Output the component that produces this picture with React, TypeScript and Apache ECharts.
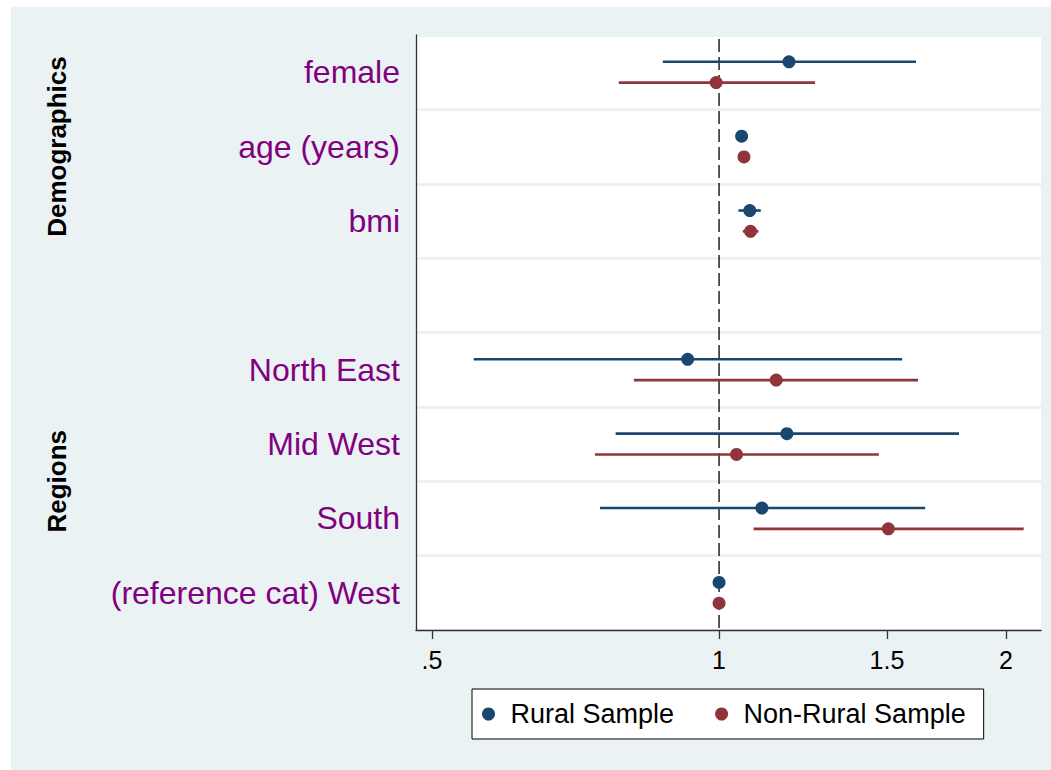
import { useEffect, useRef } from 'react';
import * as echarts from 'echarts';

// rows, top to bottom (blank row separates the two groups)
const categories = ['female', 'age (years)', 'bmi', '', 'North East', 'Mid West', 'South', '(reference cat) West'];

// odds ratios and 95% CI
const ruralEst = [1.184, 1.056, 1.077, null, 0.927, 1.178, 1.109, 1];
const ruralLo = [0.873, 1.049, 1.048, null, 0.553, 0.779, 0.750, 1];
const ruralHi = [1.609, 1.063, 1.106, null, 1.556, 1.785, 1.645, 1];

const nonRuralEst = [0.993, 1.062, 1.079, null, 1.148, 1.043, 1.505, 1];
const nonRuralLo = [0.785, 1.055, 1.059, null, 0.814, 0.741, 1.087, 1];
const nonRuralHi = [1.261, 1.069, 1.100, null, 1.617, 1.471, 2.087, 1];

const xTicks = [0.5, 1, 1.5, 2];
const xMin = 0.481;
const xMax = 2.176;
const refValue = 1;

const groups = [
    { label: 'Demographics', from: 0, to: 2 },
    { label: 'Regions', from: 4, to: 7 }
];

const FONT = '"Liberation Sans", Arial, sans-serif';
const NAVY = '#1a476f';
const MAROON = '#90353b';

const ciData = (lo: (number | null)[], hi: (number | null)[], off: number) =>
    lo.map((l, i) => (l == null || hi[i] == null ? null : [Math.log(l), Math.log(hi[i] as number), i + off]))
        .filter(Boolean);

const pointData = (est: (number | null)[], off: number) =>
    est.map((v, i) => (v == null ? null : [Math.log(v), i + off])).filter(Boolean);

const ciSeries = (name: string, lo: (number | null)[], hi: (number | null)[], off: number, color: string) => ({
    name,
    type: 'custom',
    xAxisIndex: 0,
    yAxisIndex: 1,
    z: 2,
    encode: { x: [0, 1], y: 2 },
    data: ciData(lo, hi, off),
    renderItem: (_params: any, api: any) => {
        const p1 = api.coord([api.value(0), api.value(2)]);
        const p2 = api.coord([api.value(1), api.value(2)]);
        return {
            type: 'line',
            shape: { x1: p1[0], y1: p1[1], x2: p2[0], y2: p2[1] },
            style: { stroke: color, lineWidth: 2.6 }
        };
    }
});

export default function App() {
    const chartRef = useRef<HTMLDivElement>(null);

    useEffect(() => {
        if (!chartRef.current) return;
        const chart = echarts.init(chartRef.current, null, { renderer: 'svg' });

        const off = 0.14;
        const fmt = (v: number) => String(Math.round(Math.exp(v) * 100) / 100).replace(/^0\./, '.');
        const tickVals = xTicks.map(t => Math.log(t));
        const yMin = -0.5;
        const yMax = categories.length - 0.5;

        chart.setOption({
            animation: false,
            backgroundColor: '#eaf2f3',
            textStyle: { fontFamily: FONT },
            grid: {
                left: 405,
                right: 10,
                top: 28,
                bottom: 140,
                show: true,
                backgroundColor: '#ffffff',
                borderWidth: 0
            },
            legend: {
                data: ['Rural Sample', 'Non-Rural Sample'],
                left: 461,
                top: 682,
                padding: [10, 18, 10, 10],
                itemWidth: 34,
                itemHeight: 13,
                itemGap: 41,
                icon: 'circle',
                backgroundColor: '#ffffff',
                borderColor: '#000000',
                borderWidth: 1,
                borderRadius: 0,
                textStyle: { fontSize: 27, color: '#000', fontFamily: FONT, lineHeight: 30 }
            },
            xAxis: {
                type: 'value',
                min: Math.log(xMin),
                max: Math.log(xMax),
                axisLine: { show: true, onZero: false, lineStyle: { color: '#333', width: 1.3 } },
                axisTick: { show: true, customValues: tickVals, length: 9, lineStyle: { color: '#333', width: 1.3 } },
                axisLabel: {
                    customValues: tickVals,
                    formatter: fmt,
                    fontSize: 25,
                    color: '#000',
                    margin: 17,
                    fontFamily: FONT
                },
                splitLine: { show: false }
            },
            yAxis: [
                {
                    type: 'category',
                    data: categories,
                    inverse: true,
                    boundaryGap: true,
                    axisLine: { show: true, onZero: false, lineStyle: { color: '#333', width: 1.3 } },
                    axisTick: { show: false, interval: 0 },
                    axisLabel: { interval: 0, fontSize: 32, color: '#800080', margin: 16, fontFamily: FONT },
                    splitLine: { show: true, interval: 0, lineStyle: { color: '#eaf2f3', width: 3 } }
                },
                {
                    type: 'value',
                    min: yMin,
                    max: yMax,
                    inverse: true,
                    show: false
                }
            ],
            series: [
                {
                    // dashed reference line at OR = 1
                    name: 'ref',
                    type: 'custom',
                    xAxisIndex: 0,
                    yAxisIndex: 1,
                    z: 1,
                    silent: true,
                    data: [[Math.log(refValue)]],
                    encode: { x: 0 },
                    renderItem: (_params: any, api: any) => {
                        const p1 = api.coord([api.value(0), yMin]);
                        const p2 = api.coord([api.value(0), yMax]);
                        return {
                            type: 'line',
                            shape: { x1: p1[0], y1: p1[1] + 4, x2: p2[0], y2: p2[1] },
                            style: { stroke: '#000', lineWidth: 1.3, lineDash: [13, 5] }
                        };
                    }
                },
                ciSeries('Rural CI', ruralLo, ruralHi, -off, NAVY),
                ciSeries('Non-Rural CI', nonRuralLo, nonRuralHi, off, MAROON),
                {
                    name: 'Rural Sample',
                    type: 'scatter',
                    xAxisIndex: 0,
                    yAxisIndex: 1,
                    z: 3,
                    symbol: 'circle',
                    symbolSize: 13,
                    itemStyle: { color: NAVY, opacity: 1 },
                    data: pointData(ruralEst, -off)
                },
                {
                    name: 'Non-Rural Sample',
                    type: 'scatter',
                    xAxisIndex: 0,
                    yAxisIndex: 1,
                    z: 3,
                    symbol: 'circle',
                    symbolSize: 13,
                    itemStyle: { color: MAROON, opacity: 1 },
                    data: pointData(nonRuralEst, off)
                }
            ]
        });

        // group titles, centred on their rows
        chart.setOption({
            graphic: groups.map(g => {
                const y = chart.convertToPixel({ yAxisIndex: 1 }, (g.from + g.to) / 2);
                return {
                    type: 'text',
                    x: 46,
                    y,
                    rotation: Math.PI / 2,
                    style: {
                        text: g.label,
                        font: `bold 26px ${FONT}`,
                        fill: '#000',
                        textAlign: 'center',
                        textVerticalAlign: 'middle'
                    }
                };
            })
        });

        return () => chart.dispose();
    }, []);

    return (
        <div
            ref={chartRef}
            style={{ position: 'absolute', left: 11, top: 7, width: 1040, height: 763 }}
        />
    );
}
